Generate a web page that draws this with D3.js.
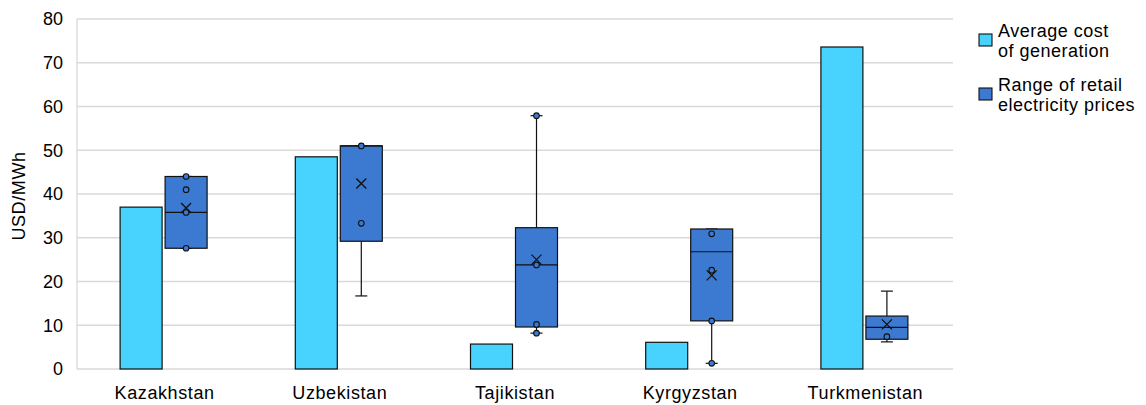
<!DOCTYPE html>
<html lang="en">
<head>
<meta charset="UTF-8">
<title>Generation cost vs retail prices</title>
<script src="https://d3js.org/d3.v7.min.js"></script>
<style>
  body { margin: 0; background: #fff; }
  text { font-family: "Liberation Sans", Arial, sans-serif; fill: #000; }
</style>
</head>
<body>
<div id="container"></div>
<script>
// data
const countries = ["Kazakhstan", "Uzbekistan", "Tajikistan", "Kyrgyzstan", "Turkmenistan"];
const genCost  = [37, 48.5, 5.7, 6.1, 73.6];
// retail price box stats per country
const boxMin    = [27.6, 16.7, 8.2, 1.3, 6.2];
const boxQ1     = [27.6, 29.2, 9.6, 11, 6.8];
const boxMedian = [35.8, 51, 23.8, 26.8, 9.5];
const boxQ3     = [44, 51, 32.3, 32, 12.1];
const boxMax    = [44, 51, 57.9, 32, 17.8];
const boxMean   = [36.8, 42.4, 25, 21.4, 10.2];
const boxPoints = [
  [44, 41, 35.8, 27.6],
  [51, 33.3],
  [57.9, 23.8, 10.2, 8.2],
  [30.9, 22.6, 11, 1.3],
  [7.4]
];
const yTicks = [0, 10, 20, 30, 40, 50, 60, 70, 80];
const legendLabels = [["Average cost", "of generation"], ["Range of retail", "electricity prices"]];
const colors = ["#48d3ff", "#3c79d1"];

const W = 1146, H = 405;
const margin = {top: 19, right: 193, bottom: 36, left: 77};
const w = W - margin.left - margin.right,
      h = H - margin.top - margin.bottom;

const svg = d3.select("#container").append("svg").attr("width", W).attr("height", H);
const g = svg.append("g").attr("transform", `translate(${margin.left},${margin.top})`);

const x = d3.scaleBand().domain(countries).range([0, w]);
const y = d3.scaleLinear().domain([0, 80]).range([h, 0]);
const barW = 42, gap = 3;

// gridlines
g.selectAll("line.grid").data(yTicks).enter().append("line")
  .attr("x1", 0).attr("x2", w)
  .attr("y1", d => y(d)).attr("y2", d => y(d))
  .attr("stroke", "#d9d9d9").attr("stroke-width", 1.3);
g.append("line").attr("x1", 0).attr("x2", 0).attr("y1", 0).attr("y2", h)
  .attr("stroke", "#d9d9d9").attr("stroke-width", 1.3);

// y axis labels
const yAxis = g.append("g").call(d3.axisLeft(y).tickValues(yTicks).tickSize(0).tickPadding(14));
yAxis.select(".domain").remove();
yAxis.selectAll("text").style("font-size", "18px").attr("fill", "#000");

const xAxis = g.append("g").attr("transform", `translate(0,${h})`)
  .call(d3.axisBottom(x).tickSize(0).tickPadding(17));
xAxis.select(".domain").remove();
xAxis.selectAll("text").style("font-size", "18px").style("letter-spacing", "0.6px").attr("fill", "#000");

svg.append("text").attr("transform", `translate(25,${margin.top + h / 2 + 2}) rotate(-90)`)
  .attr("text-anchor", "middle").style("font-size", "18px").style("letter-spacing", "0.6px")
  .text("USD/MWh");

const left = c => x(c) + x.bandwidth() / 2 - barW - gap / 2 - 1;

// generation cost bars
g.selectAll("rect.gen").data(countries).enter().append("rect")
  .attr("x", c => left(c))
  .attr("y", (c, i) => y(genCost[i]))
  .attr("width", barW)
  .attr("height", (c, i) => h - y(genCost[i]))
  .attr("fill", colors[0]).attr("stroke", "#111").attr("stroke-width", 1.2);

// box plots
countries.forEach((c, i) => {
  const bx = left(c) + barW + gap, cx = bx + barW / 2;
  const bg = g.append("g");
  // whiskers
  bg.append("line").attr("x1", cx).attr("x2", cx).attr("y1", y(boxMax[i])).attr("y2", y(boxQ3[i]))
    .attr("stroke", "#111").attr("stroke-width", 1.2);
  bg.append("line").attr("x1", cx).attr("x2", cx).attr("y1", y(boxQ1[i])).attr("y2", y(boxMin[i]))
    .attr("stroke", "#111").attr("stroke-width", 1.2);
  [boxMax[i], boxMin[i]].forEach(v => {
    bg.append("line").attr("x1", cx - 6).attr("x2", cx + 6).attr("y1", y(v)).attr("y2", y(v))
      .attr("stroke", "#111").attr("stroke-width", 1.2);
  });
  bg.append("rect").attr("x", bx).attr("y", y(boxQ3[i]))
    .attr("width", barW).attr("height", y(boxQ1[i]) - y(boxQ3[i]))
    .attr("fill", colors[1]).attr("stroke", "#111").attr("stroke-width", 1.2);
  bg.append("line").attr("x1", bx).attr("x2", bx + barW)
    .attr("y1", y(boxMedian[i])).attr("y2", y(boxMedian[i]))
    .attr("stroke", "#111").attr("stroke-width", 1.2);
  // mean marker
  const my = y(boxMean[i]), s = 5;
  bg.append("path").attr("d", `M${cx - s},${my - s}L${cx + s},${my + s}M${cx - s},${my + s}L${cx + s},${my - s}`)
    .attr("stroke", "#111").attr("stroke-width", 1.3);
  // data points
  bg.selectAll("circle").data(boxPoints[i]).enter().append("circle")
    .attr("cx", cx).attr("cy", d => y(d)).attr("r", 2.8)
    .attr("fill", colors[1]).attr("stroke", "#111").attr("stroke-width", 1.1);
});

// legend
const lg = svg.append("g").attr("transform", "translate(979,0)");
legendLabels.forEach((lines, i) => {
  const top = i === 0 ? 34 : 88;
  lg.append("rect").attr("x", 0).attr("y", top).attr("width", 13).attr("height", 12)
    .attr("fill", colors[i]).attr("stroke", "#111").attr("stroke-width", 1.1);
  lines.forEach((t, j) => {
    lg.append("text").attr("x", 19).attr("y", top + 3 + j * 19.5)
      .style("font-size", "18px").style("letter-spacing", "0.5px").text(t);
  });
});
</script>
</body>
</html>
